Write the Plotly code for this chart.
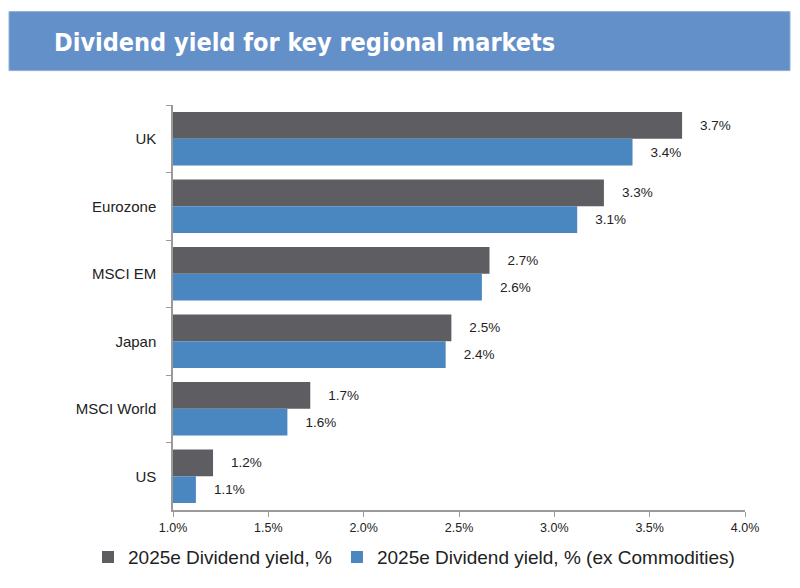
import plotly.graph_objects as go

categories = ["UK", "Eurozone", "MSCI EM", "Japan", "MSCI World", "US"]
yield_all = [3.67, 3.26, 2.66, 2.46, 1.72, 1.21]
yield_ex_comm = [3.41, 3.12, 2.62, 2.43, 1.60, 1.12]
labels_all = ["3.7%", "3.3%", "2.7%", "2.5%", "1.7%", "1.2%"]
labels_ex_comm = ["3.4%", "3.1%", "2.6%", "2.4%", "1.6%", "1.1%"]
series_names = ["2025e Dividend yield, %", "2025e Dividend yield, % (ex Commodities)"]
tick_vals = [1.0, 1.5, 2.0, 2.5, 3.0, 3.5, 4.0]
tick_text = ["1.0%", "1.5%", "2.0%", "2.5%", "3.0%", "3.5%", "4.0%"]

W, H = 800, 588
L, R, T, B = 173, 745, 105, 517
pw, ph = R - L, B - T

def px(x):
    return (x - L) / pw

def py(y):
    return (B - y) / ph

fig = go.Figure()
fig.add_trace(go.Bar(
    y=categories, x=yield_all, orientation="h", name=series_names[0],
    marker=dict(color="#5e5d62", line=dict(width=0)),
    text=["    " + t for t in labels_all], textposition="outside",
    textfont=dict(family="Liberation Sans, Arial", size=13.5, color="#222222"),
    cliponaxis=False,
))
fig.add_trace(go.Bar(
    y=categories, x=yield_ex_comm, orientation="h", name=series_names[1],
    marker=dict(color="#4a86c0", line=dict(width=0)),
    text=["    " + t for t in labels_ex_comm], textposition="outside",
    textfont=dict(family="Liberation Sans, Arial", size=13.5, color="#222222"),
    cliponaxis=False,
))

fig.update_layout(
    width=W, height=H,
    margin=dict(l=L, r=W - R, t=T, b=H - B, pad=0),
    paper_bgcolor="white", plot_bgcolor="white",
    barmode="group", bargap=0.21, bargroupgap=0,
    font=dict(family="Liberation Sans, Arial", color="#222222"),
    xaxis=dict(
        range=[1.0, 4.0], tickvals=tick_vals, ticktext=tick_text,
        showgrid=False, zeroline=False, showline=True, linecolor="#9a9a9a", linewidth=1.5,
        ticks="outside", ticklen=5, tickcolor="#9a9a9a",
        tickfont=dict(size=12.5, color="#222222"),
    ),
    yaxis=dict(
        categoryorder="array", categoryarray=categories, autorange="reversed",
        showgrid=False, showline=True, linecolor="#9a9a9a", linewidth=1.5,
        ticks="outside", ticklen=5, tickcolor="#9a9a9a", tickson="boundaries",
        tickfont=dict(size=15, color="#222222"), ticklabelstandoff=12,
    ),
    legend=dict(
        orientation="h", x=px(88), xanchor="left", y=py(565), yanchor="middle",
        font=dict(size=19, color="#222222"), traceorder="normal",
        itemwidth=30, tracegroupgap=0,
    ),
    showlegend=True,
    shapes=[dict(
        type="rect", xref="paper", yref="paper",
        x0=px(9), x1=px(790), y0=py(70), y1=py(10),
        fillcolor="#6490c9", line=dict(color="#8fb0da", width=1), layer="below",
    )],
    annotations=[dict(
        text="<b>Dividend yield for key regional markets</b>",
        xref="paper", yref="paper", x=px(52), y=py(41),
        xanchor="left", yanchor="middle", showarrow=False,
        font=dict(family="DejaVu Sans Condensed, DejaVu Sans", size=25, color="white"),
    )],
)

fig.write_html("out.html")
